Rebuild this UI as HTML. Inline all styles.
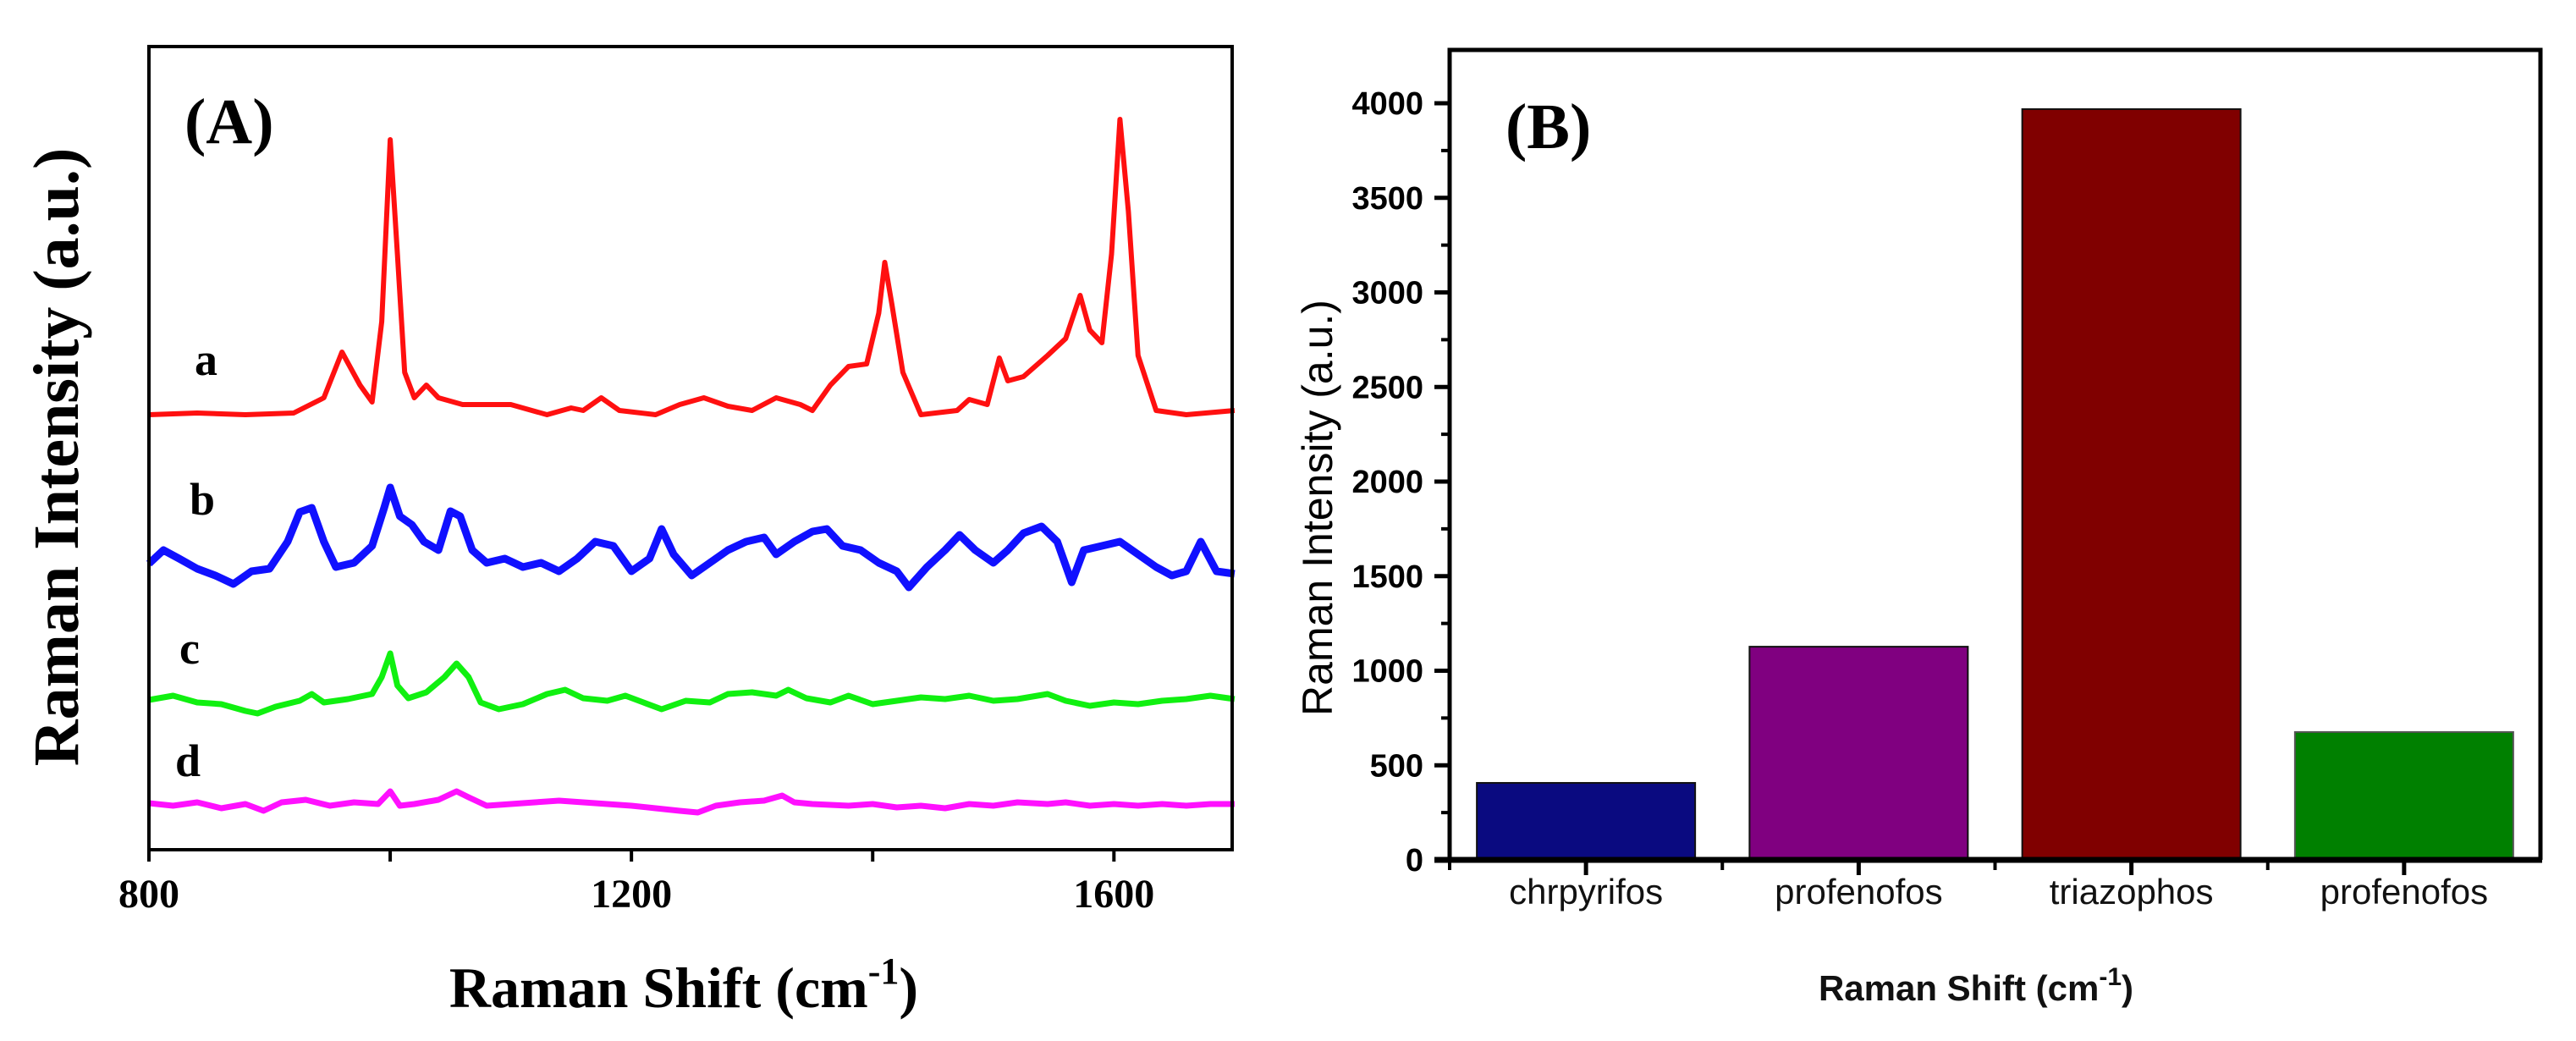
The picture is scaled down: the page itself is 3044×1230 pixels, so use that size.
<!DOCTYPE html>
<html><head><meta charset="utf-8"><style>
html,body{margin:0;padding:0;background:#fff;}
svg{display:block;}
.serif{font-family:"Liberation Serif",serif;font-weight:bold;}
.sans{font-family:"Liberation Sans",sans-serif;}
</style></head>
<body>
<svg id="fig" width="3044" height="1230" viewBox="0 0 3044 1230" xmlns="http://www.w3.org/2000/svg">
<rect width="3044" height="1230" fill="#fff"/>
<g id="panelA"></g>
<g id="panelB"></g>
</svg>
<script>
// ---------- Panel A data (Raman shift cm-1, intensity a.u. with offsets) ----------
const redX=[800,840,880,920,945,960,975,985,993,1000,1006,1012,1020,1030,1040,1060,1100,1130,1150,1160,1175,1190,1220,1240,1260,1280,1300,1320,1340,1350,1365,1380,1395,1405,1410,1416,1425,1440,1470,1480,1495,1505,1512,1525,1545,1560,1572,1580,1590,1598,1605,1612,1620,1635,1660,1700];
const redY=[514,516,514,516,534,588,549,529,624,839,704,564,534,549,534,526,526,514,522,519,534,519,514,526,534,524,519,534,526,519,549,571,574,634,694,644,564,514,519,532,526,581,554,559,584,604,655,614,599,704,863,754,584,519,514,519];
const blueX=[800,812,825,840,855,870,885,900,915,925,935,945,955,970,985,995,1000,1008,1018,1028,1040,1050,1058,1068,1080,1095,1110,1125,1140,1155,1170,1185,1200,1215,1225,1235,1250,1265,1280,1295,1310,1320,1335,1350,1362,1375,1390,1405,1420,1430,1445,1460,1472,1485,1500,1512,1525,1540,1553,1565,1575,1590,1605,1620,1635,1648,1660,1672,1685,1700];
const blueY=[338,354,344,332,324,314,329,332,364,399,404,364,334,339,359,404,428,394,384,364,354,400,394,354,339,344,334,339,329,344,364,359,329,344,379,349,324,339,354,364,369,349,364,376,379,359,354,339,329,310,334,354,372,354,339,354,374,382,364,316,354,359,364,349,334,324,329,364,329,326];
const greenX=[800,820,840,860,880,890,905,925,935,945,965,985,993,1000,1006,1015,1030,1045,1055,1065,1075,1090,1110,1130,1145,1160,1180,1195,1210,1225,1245,1265,1280,1300,1320,1330,1345,1365,1380,1400,1420,1440,1460,1480,1500,1520,1545,1560,1580,1600,1620,1640,1660,1680,1700];
const greenY=[177,182,174,172,164,161,169,176,184,174,178,184,204,232,194,179,186,204,220,204,174,166,172,184,189,179,176,182,174,166,176,174,184,186,182,189,179,174,182,172,176,180,178,182,176,178,184,176,170,174,172,176,178,182,178];
const magX=[800,820,840,860,880,895,910,930,950,970,990,1000,1008,1020,1040,1055,1065,1080,1100,1120,1140,1160,1180,1200,1220,1240,1255,1270,1290,1310,1325,1335,1350,1380,1400,1420,1440,1460,1480,1500,1520,1545,1560,1580,1600,1620,1640,1660,1680,1700];
const magY=[55,52,56,49,54,46,56,59,52,56,54,69,52,54,59,69,62,52,54,56,58,56,54,52,49,46,44,52,56,58,64,56,54,52,54,50,52,49,54,52,56,54,56,52,54,52,54,52,54,54];
const xTicksA=[800,1000,1200,1400,1600];
const xTickLabelsA=["800","","1200","","1600"];
const curveLabels=["a","b","c","d"];

// ---------- Panel B data ----------
const categories=["chrpyrifos","profenofos","triazophos","profenofos"];
const barValues=[407,1127,3969,676];
const barColors=["#0a0a80","#800080","#800000","#008000"];
const yTicksB=[0,500,1000,1500,2000,2500,3000,3500,4000];
const yTickLabelsB=["0","500","1000","1500","2000","2500","3000","3500","4000"];

const NS="http://www.w3.org/2000/svg";
function mk(tag,attrs,parent,text){const e=document.createElementNS(NS,tag);for(const k in attrs)e.setAttribute(k,attrs[k]);if(text!==undefined)e.textContent=text;parent.appendChild(e);return e;}

// ----- Panel A -----
const A=document.getElementById('panelA');
const aL=176,aR=1456,aT=55,aB=1004;
const xA=v=>aL+(v-800)*(aR-aL)/(1698-800);
const yA=v=>aB-v;
function drawSeries(xs,ys,color,name,w){
  let d='';
  for(let i=0;i<xs.length;i++){d+=(i?'L':'M')+xA(xs[i]).toFixed(1)+' '+yA(ys[i]).toFixed(1);}
  const p=mk('path',{d:d,fill:'none',stroke:color,'stroke-width':w,'stroke-linejoin':'round'},A);
  
  
}
drawSeries(redX,redY,'#ff1010','spectrum-a',6);
drawSeries(blueX,blueY,'#1010ff','spectrum-b',9);
drawSeries(greenX,greenY,'#10f010','spectrum-c',7);
drawSeries(magX,magY,'#ff10ff','spectrum-d',7);
const frA=mk('rect',{x:aL,y:aT,width:aR-aL,height:aB-aT,fill:'none',stroke:'#000','stroke-width':4},A);


xTicksA.forEach((t,i)=>{
  const l=mk('line',{x1:xA(t),x2:xA(t),y1:aB,y2:aB+14,stroke:'#000','stroke-width':4},A);
  
  
  if(xTickLabelsA[i]){
    const tx=mk('text',{x:xA(t),y:1072,'text-anchor':'middle','font-size':48,class:'serif','font-weight':'normal'},A,xTickLabelsA[i]);
    
    
  }
});
const clY=[443,608,784,917],clX=[230,224,212,207];
curveLabels.forEach((c,i)=>{
  const t=mk('text',{x:clX[i],y:clY[i],'font-size':54,class:'serif'},A,c);
  
  
});
</script>
<script>
(function(){
const A=document.getElementById('panelA');
const NS="http://www.w3.org/2000/svg";
function mk(tag,attrs,parent,text){const e=document.createElementNS(NS,tag);for(const k in attrs)e.setAttribute(k,attrs[k]);if(text!==undefined)e.textContent=text;parent.appendChild(e);return e;}
let t=mk('text',{x:218,y:169,'font-size':76,class:'serif'},A,'(A)');


t=mk('text',{x:0,y:0,'font-size':76,class:'serif','text-anchor':'middle',transform:'translate(92,540) rotate(-90)'},A,'Raman Intensity (a.u.)');


t=mk('text',{x:808,y:1190,'font-size':68,class:'serif','text-anchor':'middle'},A);
t.innerHTML='Raman Shift (cm<tspan dy="-28" font-size="44">-1</tspan><tspan dy="28">)</tspan>';



// ----- Panel B -----
const B=document.getElementById('panelB');
const bL=1713,bR=3002,bT=59,bB=1016;
const yB=v=>bB-v*(bB-122)/4000;
const slot=(bR-bL)/categories.length;
const cx=i=>bL+slot*(i+0.5);
const bw=258;
barValues.forEach((v,i)=>{
  const r=mk('rect',{x:cx(i)-bw/2,y:yB(v),width:bw,height:bB-yB(v),fill:barColors[i],stroke:i==3?'#555':'#111','stroke-width':2},B);
  
  
});
let f=mk('path',{d:`M${bL} ${bB} L${bL} ${bT} L${bR} ${bT} L${bR} ${bB}`,fill:'none',stroke:'#000','stroke-width':5},B);


f=mk('line',{x1:bL-18,x2:bR+2,y1:bB,y2:bB,stroke:'#000','stroke-width':7},B);


yTicksB.forEach((v,i)=>{
  let l=mk('line',{x1:bL-18,x2:bL,y1:yB(v),y2:yB(v),stroke:'#000','stroke-width':5},B);
  
  
  if(i<yTicksB.length-1){
    l=mk('line',{x1:bL-10,x2:bL,y1:yB(v+250),y2:yB(v+250),stroke:'#000','stroke-width':4},B);
    
    
  }
  const tx=mk('text',{x:1682,y:yB(v)+13,'font-size':38,class:'sans','text-anchor':'end','font-weight':'bold'},B,yTickLabelsB[i]);
  
  
});
categories.forEach((c,i)=>{
  let l=mk('line',{x1:cx(i),x2:cx(i),y1:bB,y2:bB+18,stroke:'#000','stroke-width':5},B);
  
  
  l=mk('line',{x1:bL+slot*i,x2:bL+slot*i,y1:bB,y2:bB+12,stroke:'#000','stroke-width':4},B);
  
  
  const tx=mk('text',{x:cx(i),y:1068,'font-size':42,class:'sans','text-anchor':'middle',fill:'#111'},B,c);
  
  
});
t=mk('text',{x:1779,y:175,'font-size':76,class:'serif'},B,'(B)');


t=mk('text',{x:0,y:0,'font-size':50,class:'sans','text-anchor':'middle',transform:'translate(1574,600) rotate(-90)'},B,'Raman Intensity (a.u.)');


t=mk('text',{x:2335,y:1182,'font-size':42,class:'sans','font-weight':'bold','text-anchor':'middle',fill:'#111'},B);
t.innerHTML='Raman Shift (cm<tspan dy="-18" font-size="30">-1</tspan><tspan dy="18">)</tspan>';


})();
</script>
</body></html>
